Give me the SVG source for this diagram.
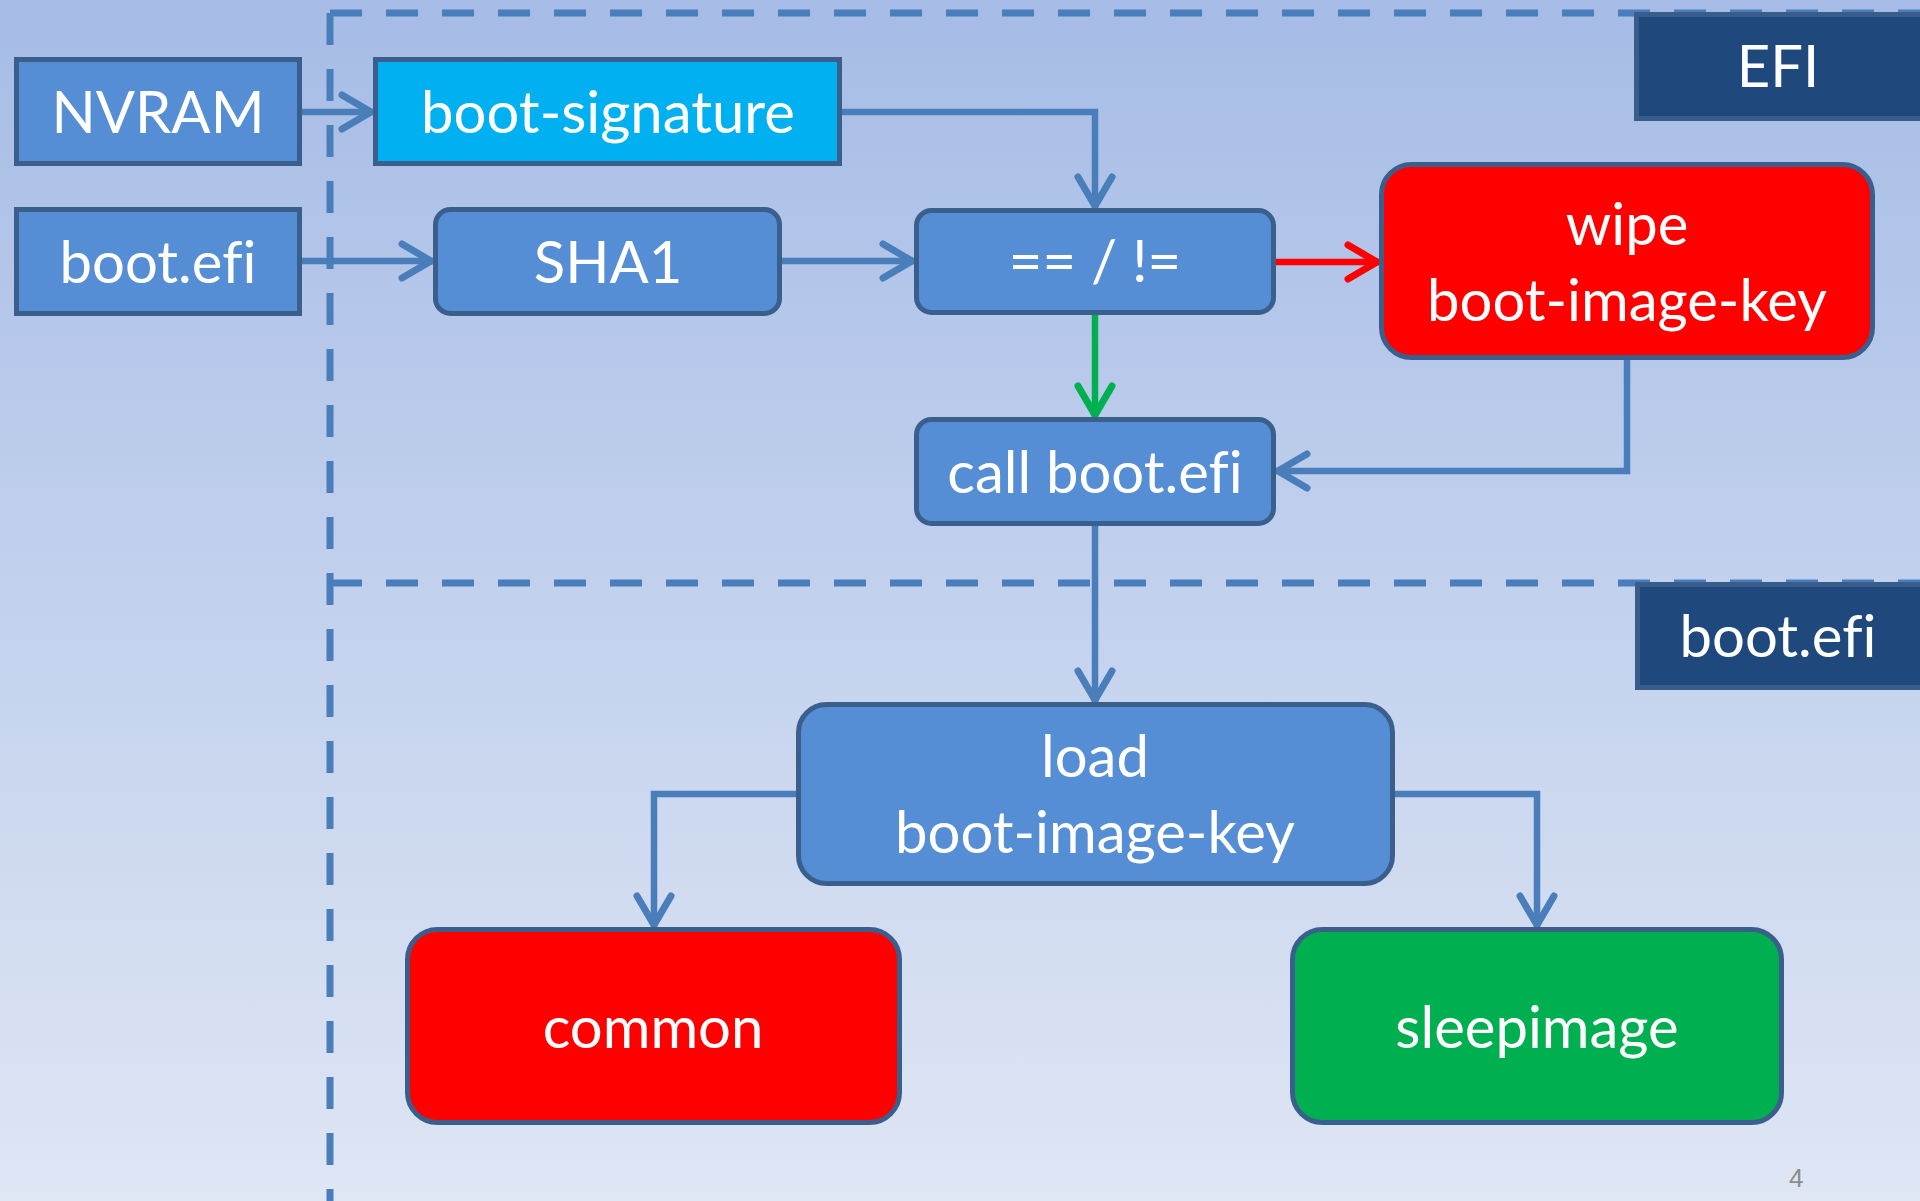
<svg xmlns="http://www.w3.org/2000/svg" width="1920" height="1201" viewBox="0 0 1920 1201">
  <defs>
    <linearGradient id="bg" x1="0" y1="0" x2="0" y2="1">
      <stop offset="0" stop-color="#a6bce6"/>
      <stop offset="1" stop-color="#dfe6f4"/>
    </linearGradient>
    <marker id="arrow-blue" markerUnits="userSpaceOnUse" viewBox="-40 -25 50 50" refX="0" refY="0" markerWidth="50" markerHeight="50" orient="auto">
      <path d="M-31,-17 L-2,0 L-31,17" fill="none" stroke="#4a7ebb" stroke-width="7" stroke-linecap="round" stroke-linejoin="miter"/>
    </marker>
    <marker id="arrow-red" markerUnits="userSpaceOnUse" viewBox="-40 -25 50 50" refX="0" refY="0" markerWidth="50" markerHeight="50" orient="auto">
      <path d="M-31,-17 L-2,0 L-31,17" fill="none" stroke="#ff0000" stroke-width="7" stroke-linecap="round" stroke-linejoin="miter"/>
    </marker>
    <marker id="arrow-green" markerUnits="userSpaceOnUse" viewBox="-40 -25 50 50" refX="0" refY="0" markerWidth="50" markerHeight="50" orient="auto">
      <path d="M-31,-17 L-2,0 L-31,17" fill="none" stroke="#00b050" stroke-width="7" stroke-linecap="round" stroke-linejoin="miter"/>
    </marker>
  </defs>
  <style>
    .box { stroke: #3a5f8c; stroke-width: 5; }
    .blue { fill: #558ed5; }
    .cyan { fill: #00b0f0; }
    .red { fill: #ff0000; }
    .green { fill: #00b050; }
    .navy { fill: #1f497d; stroke: #385d8a; stroke-width: 5; }
    .lbl { font-family: Lato, "Open Sans", "DejaVu Sans", sans-serif; font-size: 58px; fill: #ffffff; text-anchor: middle; font-variant-ligatures: none; font-feature-settings: "liga" 0; }
    .zone { fill: none; stroke: #4a7ebb; stroke-width: 7; stroke-dasharray: 32 24; }
    .link { fill: none; stroke: #4a7ebb; stroke-width: 6.5; stroke-linejoin: miter; }
    .link-blue { marker-end: url(#arrow-blue); }
    .link-red { stroke: #ff0000; marker-end: url(#arrow-red); }
    .link-green { stroke: #00b050; marker-end: url(#arrow-green); }
    .pagenum { font-family: "Liberation Sans", Arial, sans-serif; font-size: 26px; fill: #8c8c8c; }
  </style>

  <rect x="0" y="0" width="1920" height="1201" fill="url(#bg)"/>

  <!-- zone borders -->
  <g id="zones">
    <path class="zone" d="M330,13 L1920,13"/>
    <path class="zone" d="M330,13 L330,1201"/>
    <path class="zone" d="M330,583 L1920,583"/>
  </g>

  <!-- zone labels -->
  <g id="label-efi">
    <rect class="navy" x="1636.5" y="14.5" width="290" height="104"/>
    <text class="lbl" x="1778" y="87">EFI</text>
  </g>
  <g id="label-bootefi">
    <rect class="navy" x="1637.5" y="584.5" width="290" height="103"/>
    <text class="lbl" x="1778" y="657">boot.efi</text>
  </g>

  <!-- connectors -->
  <g id="connectors">
    <path class="link link-blue" d="M302,112 L373,112"/>
    <path class="link link-blue" d="M302,261 L433,261"/>
    <path class="link link-blue" d="M782,261 L914,261"/>
    <path class="link link-blue" d="M842,112 L1095,112 L1095,208"/>
    <path class="link link-red" d="M1276,262 L1379,262"/>
    <path class="link link-green" d="M1095,315 L1095,417"/>
    <path class="link link-blue" d="M1627,360 L1627,471 L1276,471"/>
    <path class="link link-blue" d="M1095,526 L1095,702"/>
    <path class="link link-blue" d="M796,794 L654,794 L654,927"/>
    <path class="link link-blue" d="M1395,794 L1537,794 L1537,927"/>
  </g>

  <!-- nodes -->
  <g id="node-nvram">
    <rect class="box blue" x="16.5" y="59.5" width="283" height="104"/>
    <text class="lbl" x="158" y="133">NVRAM</text>
  </g>
  <g id="node-boot-signature">
    <rect class="box cyan" x="375.5" y="59.5" width="464" height="104"/>
    <text class="lbl" x="608" y="133">boot-signature</text>
  </g>
  <g id="node-bootefi-file">
    <rect class="box blue" x="16.5" y="209.5" width="283" height="104"/>
    <text class="lbl" x="158" y="283">boot.efi</text>
  </g>
  <g id="node-sha1">
    <rect class="box blue" x="435.5" y="209.5" width="344" height="104" rx="15"/>
    <text class="lbl" x="608" y="283">SHA1</text>
  </g>
  <g id="node-compare">
    <rect class="box blue" x="916.5" y="210.5" width="357" height="102" rx="15"/>
    <text class="lbl" x="1095" y="282">== / !=</text>
  </g>
  <g id="node-wipe">
    <rect class="box red" x="1381.5" y="164.5" width="491" height="193" rx="30"/>
    <text class="lbl" x="1627" y="245">wipe</text>
    <text class="lbl" x="1627" y="321">boot-image-key</text>
  </g>
  <g id="node-call">
    <rect class="box blue" x="916.5" y="419.5" width="357" height="104" rx="15"/>
    <text class="lbl" x="1095" y="493">call boot.efi</text>
  </g>
  <g id="node-load">
    <rect class="box blue" x="798.5" y="704.5" width="594" height="179" rx="28"/>
    <text class="lbl" x="1095" y="777">load</text>
    <text class="lbl" x="1095" y="853">boot-image-key</text>
  </g>
  <g id="node-common">
    <rect class="box red" x="407.5" y="929.5" width="492" height="193" rx="30"/>
    <text class="lbl" x="653" y="1048">common</text>
  </g>
  <g id="node-sleepimage">
    <rect class="box green" x="1292.5" y="929.5" width="489" height="193" rx="30"/>
    <text class="lbl" x="1537" y="1048">sleepimage</text>
  </g>

  <text class="pagenum" x="1789" y="1187">4</text>
</svg>
